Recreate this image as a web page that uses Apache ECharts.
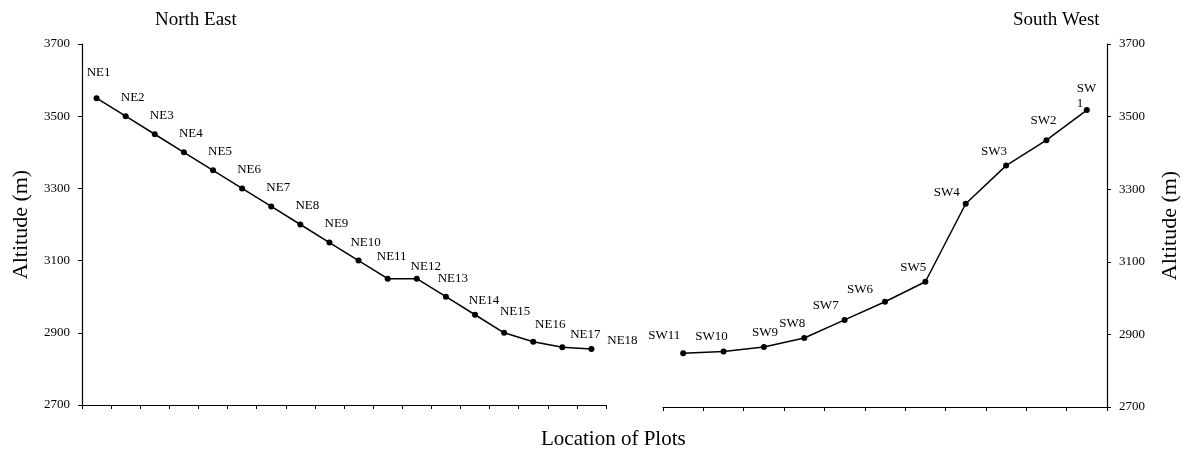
<!DOCTYPE html>
<html>
<head>
<meta charset="utf-8">
<script src="https://cdn.jsdelivr.net/npm/echarts@6/dist/echarts.min.js"></script>
<style>
    html, body { margin: 0; padding: 0; background: #fff; }
    #chart { width: 1189px; height: 450px; }
</style>
</head>
<body>
<div id="chart"></div>
<script>
// plots along the north east slope, top to bottom
const nePlots = ['NE1', 'NE2', 'NE3', 'NE4', 'NE5', 'NE6', 'NE7', 'NE8', 'NE9',
    'NE10', 'NE11', 'NE12', 'NE13', 'NE14', 'NE15', 'NE16', 'NE17', 'NE18'];
const neAltitude = [3550, 3500, 3450, 3400, 3350, 3300, 3250, 3200, 3150,
    3100, 3050, 3050, 3000, 2950, 2900, 2875, 2860, 2855];

// plots along the south west slope, bottom to top
const swPlots = ['SW11', 'SW10', 'SW9', 'SW8', 'SW7', 'SW6', 'SW5', 'SW4', 'SW3', 'SW2', 'SW1'];
const swAltitude = [2848, 2853, 2865, 2890, 2940, 2990, 3045, 3260, 3365, 3435, 3518];

// altitude axis: min, max, step
const altMin = 2700;
const altMax = 3700;
const altStep = 200;

const serif = 'Liberation Serif';

// hand nudges for the plot labels, like in the original figure
const labelNudge = {
    NE1: [2, -11], NE11: [4, -8], NE12: [9, 2], NE14: [9, 0],
    NE15: [11, -7], NE16: [17, -3], NE17: [23, 2], NE18: [31, 6],
    SW11: [-19, -3], SW9: [1, 0], SW7: [-19, 0], SW6: [-25, 2],
    SW4: [-19, 3], SW2: [-3, -5]
};

let chart = echarts.init(document.getElementById('chart'));

function catAxis(gridIndex, data) {
    return {
        type: 'category',
        gridIndex: gridIndex,
        data: data,
        boundaryGap: true,
        axisLine: { lineStyle: { color: '#000', width: 1.2 } },
        axisTick: { show: true, interval: 0, length: 4, lineStyle: { color: '#000' } },
        axisLabel: { show: false },
        splitLine: { show: false }
    };
}

function altAxis(gridIndex, side, nameGap) {
    return {
        type: 'value',
        gridIndex: gridIndex,
        position: side,
        min: altMin,
        max: altMax,
        interval: altStep,
        name: 'Altitude (m)',
        nameLocation: 'middle',
        nameRotate: 90,
        nameGap: nameGap,
        nameTextStyle: { fontFamily: serif, fontSize: 22, color: '#000' },
        axisLine: { show: true, lineStyle: { color: '#000', width: 1.2 } },
        axisTick: { show: true, length: 4, lineStyle: { color: '#000' } },
        axisLabel: {
            fontFamily: serif, fontSize: 13, color: '#000', margin: 12,
            formatter: v => String(v)
        },
        splitLine: { show: false }
    };
}

function slopeSeries(index, values, names, offset) {
    return {
        type: 'line',
        xAxisIndex: index,
        yAxisIndex: index,
        data: values.map((v, i) => {
            let item = { value: v, name: names[i] };
            if (labelNudge[names[i]]) {
                item.label = { offset: labelNudge[names[i]] };
            }
            if (names[i] === 'SW1') {
                // the label wraps in the original
                item.label = { formatter: 'SW\n1', align: 'left', lineHeight: 15, offset: [-10, 9] };
            }
            return item;
        }),
        symbol: 'circle',
        symbolSize: 6,
        itemStyle: { color: '#000' },
        lineStyle: { color: '#000', width: 1.5 },
        label: {
            show: true,
            position: 'top',
            distance: 5,
            offset: offset,
            formatter: '{b}',
            fontFamily: serif,
            fontSize: 13,
            color: '#000'
        },
        animation: false
    };
}

let option = {
    backgroundColor: '#fff',
    title: [
        { text: 'North East', left: 150, top: 6, textStyle: { fontFamily: serif, fontSize: 19, fontWeight: 'normal', color: '#000' } },
        { text: 'South West', left: 1008, top: 6, textStyle: { fontFamily: serif, fontSize: 19, fontWeight: 'normal', color: '#000' } },
        { text: 'Location of Plots', left: 536, top: 424, textStyle: { fontFamily: serif, fontSize: 21, fontWeight: 'normal', color: '#000' } }
    ],
    grid: [
        { left: 82, right: 583, top: 44, bottom: 45 },
        { left: 663, right: 82, top: 44, bottom: 43 }
    ],
    xAxis: [catAxis(0, nePlots), catAxis(1, swPlots)],
    yAxis: [altAxis(0, 'left', 50), altAxis(1, 'right', 52)],
    series: [
        slopeSeries(0, neAltitude, nePlots, [7, -4]),
        slopeSeries(1, swAltitude, swPlots, [-12, 0])
    ]
};

chart.setOption(option);
</script>
</body>
</html>
